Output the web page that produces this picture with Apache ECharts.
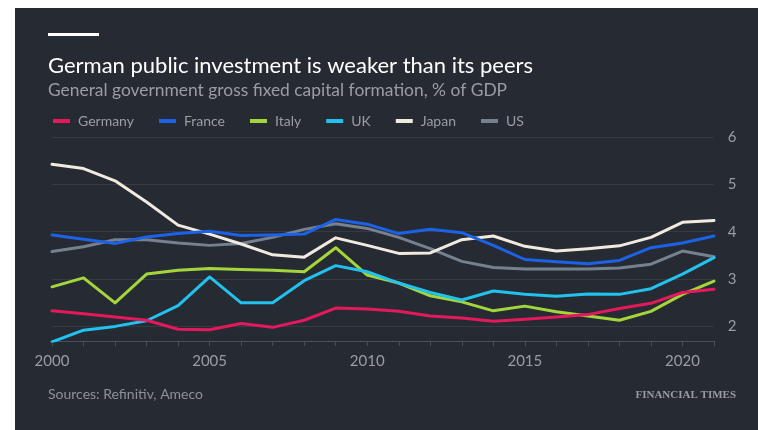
<!DOCTYPE html>
<html>
<head>
<meta charset="utf-8">
<script src="https://cdn.jsdelivr.net/npm/echarts@6/dist/echarts.min.js"></script>
<style>
  html, body { margin: 0; padding: 0; background: #ffffff; }
  #chart { width: 758px; height: 430px; }
</style>
</head>
<body>
<div id="chart"></div>
<script>
// Years on the x axis
const years = ['2000','2001','2002','2003','2004','2005','2006','2007','2008','2009','2010',
               '2011','2012','2013','2014','2015','2016','2017','2018','2019','2020','2021'];

// General government gross fixed capital formation, % of GDP
const germany = [2.32,2.26,2.19,2.12,1.93,1.92,2.05,1.97,2.12,2.38,2.36,2.31,2.21,2.17,2.10,2.14,2.19,2.24,2.37,2.48,2.71,2.78];
const france  = [3.93,3.84,3.75,3.89,3.96,4.01,3.92,3.93,3.95,4.26,4.16,3.96,4.05,3.98,3.71,3.41,3.36,3.32,3.39,3.66,3.76,3.91];
const italy   = [2.83,3.02,2.49,3.10,3.18,3.22,3.20,3.18,3.15,3.66,3.08,2.91,2.64,2.51,2.32,2.42,2.30,2.21,2.12,2.31,2.67,2.95];
const uk      = [1.66,1.91,1.99,2.11,2.43,3.04,2.49,2.49,2.96,3.28,3.15,2.91,2.71,2.55,2.74,2.67,2.63,2.68,2.67,2.79,3.10,3.45];
const japan   = [5.43,5.34,5.08,4.63,4.14,3.95,3.74,3.51,3.46,3.87,3.71,3.54,3.55,3.83,3.91,3.69,3.59,3.64,3.70,3.88,4.20,4.24];
const us      = [3.58,3.68,3.83,3.83,3.76,3.71,3.75,3.88,4.05,4.17,4.07,3.88,3.64,3.37,3.24,3.21,3.21,3.21,3.23,3.31,3.59,3.47];

// Value-axis gridlines and their labels
const yTicks = [2, 3, 4, 5, 6];

const seriesDefs = [
  { name: 'US',      data: us,      color: '#76818f' },
  { name: 'Japan',   data: japan,   color: '#f1eadf' },
  { name: 'France',  data: france,  color: '#1b62e6' },
  { name: 'Italy',   data: italy,   color: '#a4d63b' },
  { name: 'UK',      data: uk,      color: '#22c1ee' },
  { name: 'Germany', data: germany, color: '#e4195c' }
];

const legendOrder = ['Germany', 'France', 'Italy', 'UK', 'Japan', 'US'];

const FONT = 'Lato, "Noto Sans", sans-serif';
const GREY = '#9a9da4';

const chart = echarts.init(document.getElementById('chart'), null, { renderer: 'canvas' });

const series = seriesDefs.map((s, i) => ({
  name: s.name,
  type: 'line',
  data: s.data,
  showSymbol: false,
  symbol: 'none',
  smooth: false,
  lineStyle: { width: 3, color: s.color, join: 'round', cap: 'round' },
  itemStyle: { color: s.color },
  emphasis: { disabled: true },
  z: 3 + i,
  // horizontal gridlines running the width of the plot
  markLine: i === 0 ? {
    silent: true,
    symbol: 'none',
    label: { show: false },
    lineStyle: { color: '#363a43', width: 1, type: 'solid' },
    z: 1,
    data: yTicks.map(v => ({ yAxis: v }))
  } : undefined
}));

chart.setOption({
  backgroundColor: 'transparent',
  animation: false,
  graphic: [
    { type: 'rect', shape: { x: 15, y: 8, width: 743, height: 422 }, style: { fill: '#262a33' }, z: -10 },
    { type: 'rect', shape: { x: 48, y: 33, width: 51, height: 3 }, style: { fill: '#ffffff' } },
    { type: 'text', left: 48, top: 55, style: { text: 'German public investment is weaker than its peers', fill: '#ffffff', font: '22px ' + FONT } },
    { type: 'text', left: 48, top: 82, style: { text: 'General government gross fixed capital formation, % of GDP', fill: GREY, font: '17.4px ' + FONT } },
    { type: 'text', left: 48, top: 387, style: { text: 'Sources: Refinitiv, Ameco', fill: '#8e9198', font: '14px ' + FONT } },
    { type: 'text', right: 22, top: 390, style: { text: 'FINANCIAL TIMES', fill: '#9a9ca2', font: 'bold 11px "Liberation Serif", "DejaVu Serif", serif' } }
  ],
  legend: {
    data: legendOrder,
    left: 48,
    top: 109,
    icon: 'rect',
    itemWidth: 17,
    itemHeight: 4,
    itemGap: 25,
    selectedMode: false,
    textStyle: { color: GREY, fontSize: 14, fontFamily: FONT, padding: [0, 0, 0, 3] }
  },
  grid: { left: 52, right: 44, top: 137.5, bottom: 89, containLabel: false },
  xAxis: {
    type: 'category',
    data: years,
    boundaryGap: false,
    axisLine: { lineStyle: { color: '#4a4e57', width: 1 } },
    axisTick: { show: true, interval: 0, length: 5, lineStyle: { color: '#4a4e57' } },
    axisLabel: {
      interval: (idx) => idx % 5 === 0,
      color: GREY, fontSize: 15, fontFamily: FONT, margin: 13
    },
    splitLine: { show: false }
  },
  yAxis: {
    type: 'value',
    position: 'right',
    min: 1.68,
    max: 6,
    axisLine: { show: false },
    axisTick: { show: false },
    splitLine: { show: false },
    axisLabel: {
      customValues: yTicks,
      align: 'center',
      color: GREY, fontSize: 15, fontFamily: FONT, margin: 18
    }
  },
  series: series
});
</script>
</body>
</html>
